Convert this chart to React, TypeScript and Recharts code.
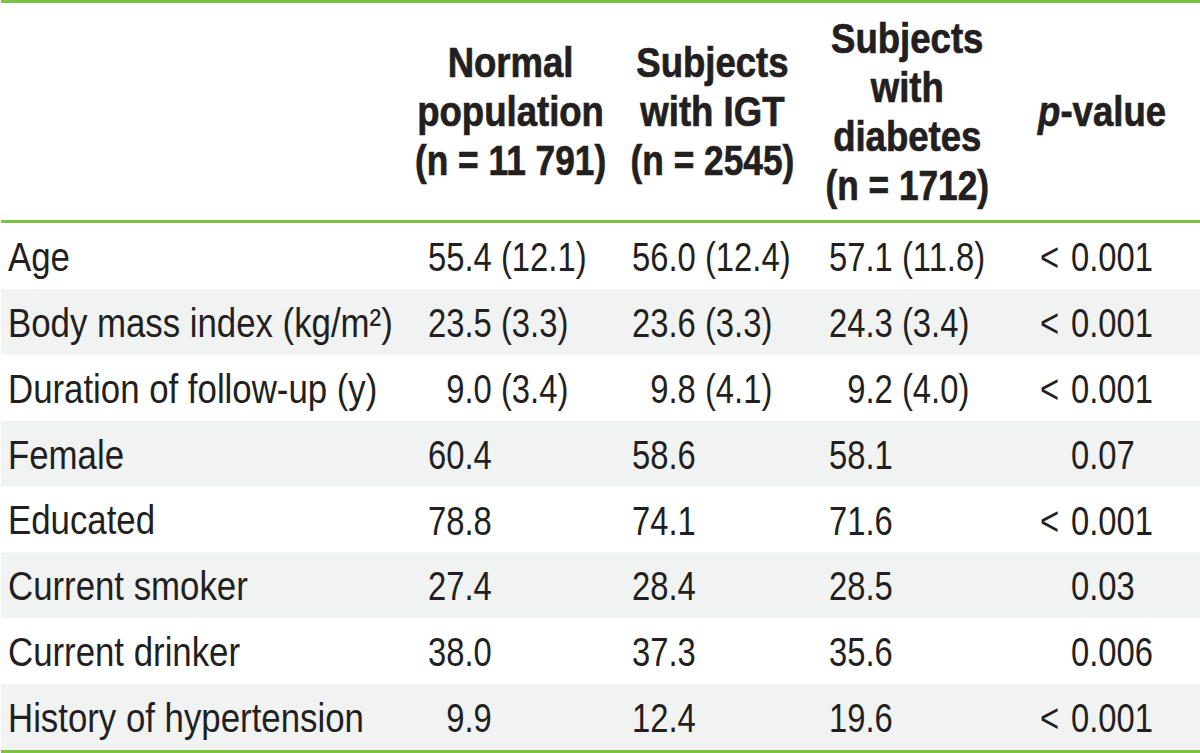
import React from 'react';
import { ComposedChart, Bar, Cell, XAxis, YAxis, LabelList } from 'recharts';

// ---------- data ----------
const rowLabels = [
  'Age',
  'Body mass index (kg/m²)',
  'Duration of follow-up (y)',
  'Female',
  'Educated',
  'Current smoker',
  'Current drinker',
  'History of hypertension',
];
const normalValues = ['55.4 (12.1)', '23.5 (3.3)', '9.0 (3.4)', '60.4', '78.8', '27.4', '38.0', '9.9'];
const igtValues = ['56.0 (12.4)', '23.6 (3.3)', '9.8 (4.1)', '58.6', '74.1', '28.4', '37.3', '12.4'];
const diabetesValues = ['57.1 (11.8)', '24.3 (3.4)', '9.2 (4.0)', '58.1', '71.6', '28.5', '35.6', '19.6'];
const pValues = ['< 0.001', '< 0.001', '< 0.001', '0.07', '< 0.001', '0.03', '0.006', '< 0.001'];

const headerNormal = ['Normal', 'population', '(n = 11 791)'];
const headerIGT = ['Subjects', 'with IGT', '(n = 2545)'];
const headerDiabetes = ['Subjects', 'with', 'diabetes', '(n = 1712)'];
const headerP = ['p-value'];

// ---------- layout / style ----------
const W = 1200;
const H = 753;
const GREEN = '#7dc242';
const SHADE = '#f1f2f2';
const INK = '#231f20';
const FONT = '"Liberation Sans", Arial, Helvetica, sans-serif';
const BODY_SIZE = 40;
const VALUE_SX = 0.82;
const LABEL_SX = 0.87;
const HEAD_SIZE = 42;
const HEAD_SX = 0.87;
const HEAD_MID = 111;
const HEAD_LINE = 49;
const DIGIT_W = 0.556 * BODY_SIZE * VALUE_SX;
const BASE_OFF = 15;
const RULE = 3;

const COL_NORMAL = 428;
const COL_IGT = 632;
const COL_DIAB = 829;
const COL_P_LT = 1040;
const COL_P_NUM = 1071;
const HEADER_X = [510, 712, 907, 1102];
const HEADERS = [headerNormal, headerIGT, headerDiabetes, headerP];

const tableData = rowLabels.map((label, i) => ({
  label,
  span: W,
  normal: normalValues[i],
  igt: igtValues[i],
  diabetes: diabetesValues[i],
  p: pValues[i],
}));

function getBox(props: any) {
  const vb = props.viewBox || {};
  const y = props.y ?? vb.y;
  const height = props.height ?? vb.height;
  return { y: Number(y), height: Number(height) };
}

const valueCell = (left: number) => (props: any) => {
  const { y, height } = getBox(props);
  const s = String(props.value);
  const intLen = s.split('.')[0].length;
  const dx = (2 - intLen) * DIGIT_W;
  return (
    <text
      transform={`translate(${left + dx},${y + height / 2 + BASE_OFF}) scale(${VALUE_SX},1)`}
      fontFamily={FONT}
      fontSize={BODY_SIZE}
      fill={INK}
    >
      {s}
    </text>
  );
};

const pCell = (props: any) => {
  const { y, height } = getBox(props);
  const s = String(props.value);
  const lt = s.startsWith('<');
  const num = lt ? s.replace('<', '').trim() : s;
  const base = y + height / 2 + BASE_OFF;
  return (
    <g>
      {lt && (
        <text
          transform={`translate(${COL_P_LT},${base}) scale(${VALUE_SX},1)`}
          fontFamily={FONT}
          fontSize={BODY_SIZE}
          fill={INK}
        >
          {'<'}
        </text>
      )}
      <text
        transform={`translate(${COL_P_NUM},${base}) scale(${VALUE_SX},1)`}
        fontFamily={FONT}
        fontSize={BODY_SIZE}
        fill={INK}
      >
        {num}
      </text>
    </g>
  );
};

const renderRowLabel = (props: any) => {
  const { y, payload } = props;
  return (
    <text
      transform={`translate(8,${Number(y) + BASE_OFF}) scale(${LABEL_SX},1)`}
      fontFamily={FONT}
      fontSize={BODY_SIZE}
      fill={INK}
      textAnchor="start"
    >
      {payload && payload.value}
    </text>
  );
};

const renderHeader = (props: any) => {
  const { x, payload } = props;
  const idx = HEADER_X.indexOf(Number(payload && payload.value));
  const lines = HEADERS[idx] || [];
  const n = lines.length;
  return (
    <g>
      {lines.map((line, i) => {
        const base = HEAD_MID + (i - (n - 1) / 2) * HEAD_LINE + 15;
        const isP = line.startsWith('p-');
        const isCount = line.startsWith('(n');
        return (
          <text
            key={i}
            transform={`translate(${x},${base}) scale(${isCount ? 0.84 : HEAD_SX},1)`}
            fontFamily={FONT}
            fontSize={HEAD_SIZE}
            fontWeight="bold"
            fill={INK}
            stroke={INK}
            strokeWidth={0.7}
            textAnchor="middle"
          >
            {isP ? (
              <>
                <tspan fontStyle="italic">p</tspan>
                <tspan>{line.slice(1)}</tspan>
              </>
            ) : (
              line
            )}
          </text>
        );
      })}
    </g>
  );
};

export default function App() {
  return (
    <div style={{ position: 'absolute', left: 0, top: 0, width: W, height: H, background: '#ffffff' }}>
      <ComposedChart
        width={W}
        height={H}
        data={tableData}
        layout="vertical"
        margin={{ top: 0, right: 0, bottom: 0, left: 0 }}
        barCategoryGap={0}
      >
        <XAxis
          xAxisId={0}
          orientation="top"
          type="number"
          domain={[0, W]}
          ticks={HEADER_X}
          interval={0}
          height={220}
          axisLine={{ stroke: GREEN, strokeWidth: RULE, transform: `translate(0,${-RULE / 2})` }}
          tickLine={false}
          tick={renderHeader}
        />
        <XAxis
          xAxisId="topline"
          orientation="top"
          type="number"
          domain={[0, W]}
          height={RULE}
          axisLine={{ stroke: GREEN, strokeWidth: RULE, transform: `translate(0,${-RULE / 2})` }}
          tickLine={false}
          tick={false}
        />
        <XAxis
          xAxisId="bottom"
          orientation="bottom"
          type="number"
          domain={[0, W]}
          height={RULE}
          axisLine={{ stroke: GREEN, strokeWidth: RULE, transform: `translate(0,${RULE / 2})` }}
          tickLine={false}
          tick={false}
        />
        <YAxis
          type="category"
          dataKey="label"
          width={1}
          axisLine={false}
          tickLine={false}
          interval={0}
          tick={renderRowLabel}
        />
        <Bar dataKey="span" xAxisId={0} isAnimationActive={false}>
          {tableData.map((_, i) => (
            <Cell key={i} fill={i % 2 === 1 ? SHADE : '#ffffff'} />
          ))}
          <LabelList dataKey="normal" content={valueCell(COL_NORMAL)} />
          <LabelList dataKey="igt" content={valueCell(COL_IGT)} />
          <LabelList dataKey="diabetes" content={valueCell(COL_DIAB)} />
          <LabelList dataKey="p" content={pCell} />
        </Bar>
      </ComposedChart>
    </div>
  );
}
